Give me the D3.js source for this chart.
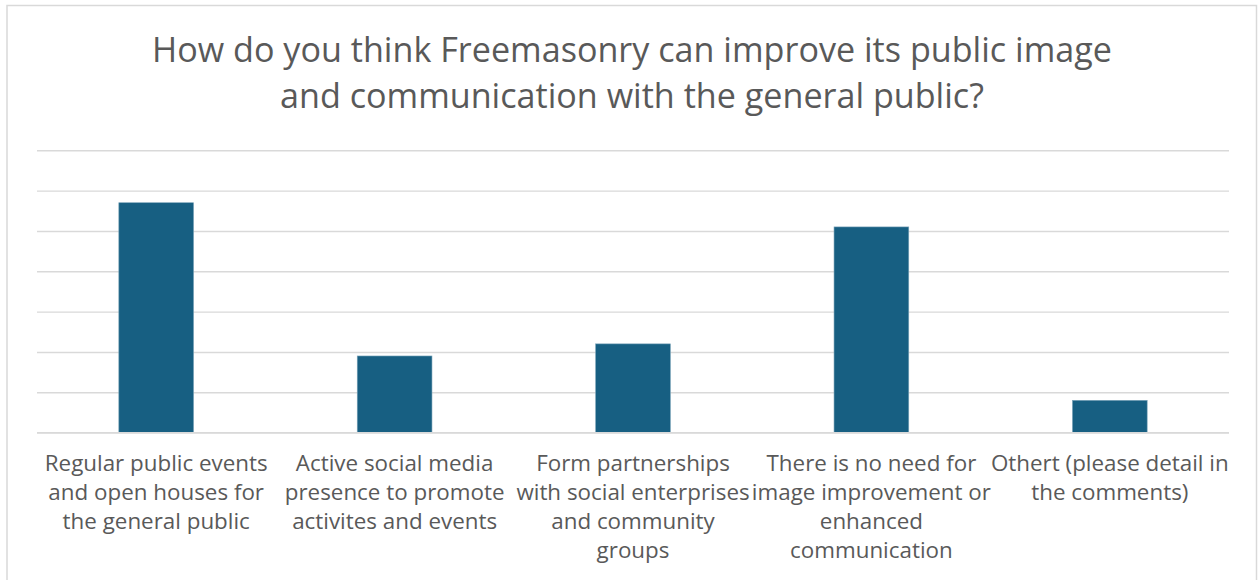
<!DOCTYPE html>
<html>
<head>
<meta charset="utf-8">
<script src="https://cdn.jsdelivr.net/npm/d3@7"></script>
<style>
  html, body { margin: 0; padding: 0; background: #ffffff; }
  svg { display: block; }
</style>
</head>
<body>
<svg id="chart" width="1260" height="580"></svg>
<script>
// Survey question and answer options (line breaks as set in the category labels)
const titleLines = [
  "How do you think Freemasonry can improve its public image",
  "and communication with the general public?"
];
const categories = [
  "Regular public events\nand open houses for\nthe general public",
  "Active social media\npresence to promote\nactivites and events",
  "Form partnerships\nwith social enterprises\nand community\ngroups",
  "There is no need for\nimage improvement or\nenhanced\ncommunication",
  "Othert (please detail in\nthe comments)"
];
// Number of responses per option
const responses = [57, 19, 22, 51, 8];
// Gridline values (value axis labels are hidden)
const gridValues = [0, 10, 20, 30, 40, 50, 60, 70];

const W = 1260, H = 580;
const FONT = "'Open Sans', 'Noto Sans', sans-serif";
const TEXT = "#595959";
const BAR = "#175f82";
const GRID = "#d9d9d9";

const svg = d3.select("#chart");

// Chart area frame
svg.append("rect")
  .attr("x", 7).attr("y", 5.5)
  .attr("width", 1249.5).attr("height", 600)
  .attr("fill", "#ffffff")
  .attr("stroke", GRID).attr("stroke-width", 1.5);

const plot = { left: 37, right: 1229, top: 150.3, bottom: 432.6 };

const x = d3.scaleBand()
  .domain(categories)
  .range([plot.left, plot.right])
  .padding(0);

const y = d3.scaleLinear()
  .domain([0, d3.max(gridValues)])
  .range([plot.bottom, plot.top]);

// Horizontal gridlines
const yAxis = d3.axisLeft(y)
  .tickValues(gridValues)
  .tickSize(-(plot.right - plot.left))
  .tickFormat("");
const gy = svg.append("g")
  .attr("transform", `translate(${plot.left},0)`)
  .call(yAxis);
gy.select(".domain").remove();
gy.selectAll(".tick line").attr("stroke", GRID).attr("stroke-width", 1.4);

// Bars: gap width ~219% of bar width
const barW = x.step() / 3.19;
svg.append("g").selectAll("rect")
  .data(categories.map((c, i) => ({ c, v: responses[i] })))
  .join("rect")
  .attr("x", d => x(d.c) + x.bandwidth() / 2 - barW / 2)
  .attr("y", d => y(d.v))
  .attr("width", barW)
  .attr("height", d => y(0) - y(d.v))
  .attr("fill", BAR)
  .attr("stroke", "#7aa3b8")
  .attr("stroke-width", 0.6);

// Baseline drawn over the bar bottoms
svg.append("line")
  .attr("x1", plot.left).attr("x2", plot.right)
  .attr("y1", y(0)).attr("y2", y(0))
  .attr("stroke", GRID).attr("stroke-width", 1.4);

// Fit font size so a reference string reaches a target width
function fitSize(str, targetW, base) {
  const t = svg.append("text").attr("font-family", FONT).attr("font-size", base).text(str);
  const w = t.node().getComputedTextLength();
  t.remove();
  return base * targetW / w;
}

// Title
const titleSize = fitSize(titleLines[0], 960, 30);
svg.append("g").selectAll("text")
  .data(titleLines)
  .join("text")
  .attr("x", 632)
  .attr("y", (d, i) => 61.5 + i * 46)
  .attr("text-anchor", "middle")
  .attr("font-family", FONT)
  .attr("font-size", titleSize)
  .attr("fill", TEXT)
  .text(d => d);

// Category labels
const labelSize = fitSize("Regular public events", 223, 20);
const xAxis = d3.axisBottom(x).tickSize(0).tickFormat("");
const gx = svg.append("g")
  .attr("transform", `translate(0,${plot.bottom})`)
  .call(xAxis);
gx.select(".domain").remove();
gx.selectAll(".tick").each(function(d) {
  const lines = d.split("\n");
  d3.select(this).selectAll("text.lbl")
    .data(lines)
    .join("text")
    .attr("class", "lbl")
    .attr("x", 0)
    .attr("y", (l, i) => 38 + i * 29.3)
    .attr("text-anchor", "middle")
    .attr("font-family", FONT)
    .attr("font-size", labelSize)
    .attr("fill", TEXT)
    .text(l => l);
});
</script>
</body>
</html>
